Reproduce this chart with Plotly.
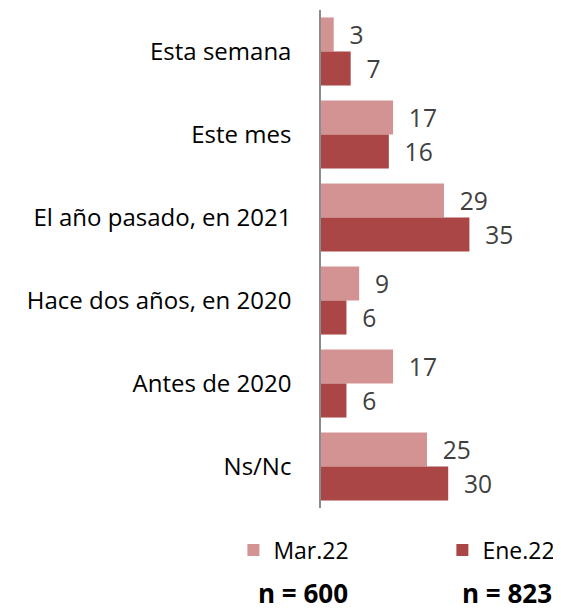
import plotly.graph_objects as go

categories = ["Esta semana", "Este mes", "El año pasado, en 2021",
              "Hace dos años, en 2020", "Antes de 2020", "Ns/Nc"]
mar22 = [3, 17, 29, 9, 17, 25]
ene22 = [7, 16, 35, 6, 6, 30]
series_names = ["Mar.22", "Ene.22"]
n_labels = ["n = 600", "n = 823"]

c_light = "#D39393"
c_dark = "#AA4646"
font_fam = "Open Sans, Noto Sans, sans-serif"

W, H = 553, 603
L, R, T, B = 313, 28, 2, 103
pw, ph = W - L - R, H - T - B

fig = go.Figure()
for name, vals, col, lg in [(series_names[0], mar22, c_light, "legend"),
                            (series_names[1], ene22, c_dark, "legend2")]:
    fig.add_trace(go.Bar(y=categories, x=vals, orientation="h", name=name,
                         marker=dict(color=col, line=dict(width=0)),
                         text=vals, texttemplate="\u00a0\u00a0%{x}", textposition="outside",
                         textfont=dict(size=26, color="#404040", family=font_fam),
                         cliponaxis=False, legend=lg))

leg_common = dict(orientation="h", xref="container", yref="container",
                  y=0.101, xanchor="left", yanchor="middle",
                  font=dict(size=23, color="#000000"), bgcolor="rgba(0,0,0,0)")

fig.update_layout(
    width=W, height=H,
    margin=dict(l=L, r=R, t=T, b=B),
    barmode="group", bargap=0.18, bargroupgap=0,
    plot_bgcolor="white", paper_bgcolor="white",
    font=dict(family=font_fam, size=23, color="#000000"),
    showlegend=True,
    legend=dict(x=0.4076, **leg_common),
    legend2=dict(x=0.7855, **leg_common),
    xaxis=dict(range=[0, 50], visible=False, showgrid=False, zeroline=False),
    yaxis=dict(autorange="reversed", showline=True, linecolor="#8c8c8c", linewidth=1.5,
               showgrid=False, ticks="", ticklabelstandoff=23,
               tickfont=dict(size=24, color="#000000")),
)

for label, cx in zip(n_labels, [295, 499]):
    fig.add_annotation(text="<b>" + label + "</b>", xref="paper", yref="paper",
                       x=(cx - L) / pw, y=(H - B - 585) / ph,
                       showarrow=False, font=dict(size=26, color="#000000"),
                       xanchor="center", yanchor="middle")

fig.write_html("out.html")
